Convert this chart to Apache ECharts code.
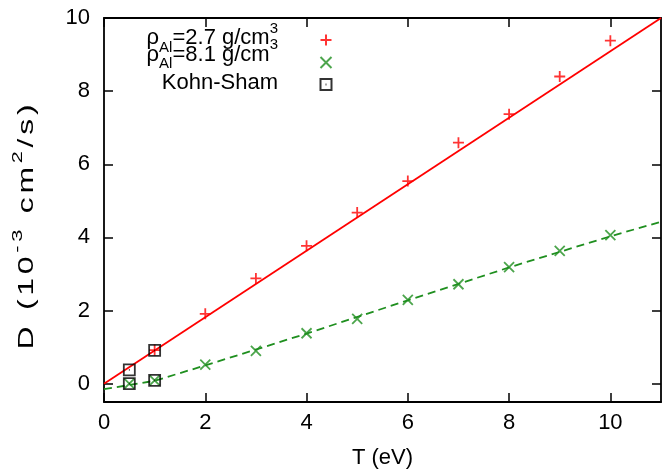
<!DOCTYPE html>
<html>
<head>
<meta charset="utf-8">
<script src="https://cdn.jsdelivr.net/npm/echarts@6/dist/echarts.min.js"></script>
<style>
html,body{margin:0;padding:0;background:#fff;}
#c{width:670px;height:474px;}
</style>
</head>
<body>
<div id="c"></div>
<script>
// ---- data ----
const redT = [1, 2, 3, 4, 5, 6, 7, 8, 9, 10];
const redD = [0.92, 1.91, 2.88, 3.77, 4.68, 5.54, 6.59, 7.37, 8.40, 9.38];
const greenT = [0.5, 1, 2, 3, 4, 5, 6, 7, 8, 9, 10];
const greenD = [0.0, 0.09, 0.52, 0.90, 1.38, 1.77, 2.29, 2.72, 3.19, 3.63, 4.06];
const ksT = [0.5, 0.5, 1, 1];
const ksD = [0.38, 0.0, 0.91, 0.09];
const redFitT = [0, 11];
const redFitD = [0, 10];
const greenFitT = [0, 1, 2, 4, 6, 8, 10, 11];
const greenFitD = [-0.15, 0.08, 0.50, 1.37, 2.28, 3.18, 4.03, 4.43];
const xTicks = [0, 2, 4, 6, 8, 10];
const yTicks = [0, 2, 4, 6, 8, 10];

const zip = (a, b) => a.map((v, i) => [v, b[i]]);
const FONTNAME = '"Liberation Sans", Arial, sans-serif';
const FS = 22, FSS = 15;
const RED = '#ff0000';
const GREEN = '#1f8f1f';

const plusPath = 'path://M0,-1L0,1M-1,0L1,0';
const crossPath = 'path://M-1,-1L1,1M-1,1L1,-1';
const boxPath = 'path://M-5,-5L5,-5L5,5L-5,5Z M-0.4,0L0.4,0';

const richMain = {
  a: {fontSize: FS, lineHeight: 34, fontFamily: FONTNAME, color: '#000'},
  sub: {fontSize: FSS, lineHeight: 22, verticalAlign: 'bottom', fontFamily: FONTNAME, color: '#000'},
  sup: {fontSize: FSS, lineHeight: 16, verticalAlign: 'top', fontFamily: FONTNAME, color: '#000'}
};

// y-axis title: the reference draws it drawn out along its length
const cv = document.createElement('canvas').getContext('2d');
function tw(t, size) { cv.font = size + 'px ' + FONTNAME; return cv.measureText(t).width; }
const yParts = [['D (10', 'a'], ['-3', 's'], [' cm', 'a'], ['2', 's'], ['/s)', 'a']];
const yChars = [];
yParts.forEach(([t, k]) => t.split('').forEach(ch => yChars.push([ch, k])));
const yNatural = yChars.reduce((s, [ch, k]) => s + tw(ch, k === 'a' ? FS : FSS), 0);
const yTarget = 245, yScale = 1.45;
const yPad = Math.max(0, (yTarget / yScale - yNatural) / (yChars.length - 1));
const yRich = {
  a: {fontSize: FS, lineHeight: 34, fontFamily: FONTNAME, color: '#000', padding: [0, yPad, 0, 0]},
  s: {fontSize: FSS, lineHeight: 16, verticalAlign: 'top', fontFamily: FONTNAME, color: '#000', padding: [0, yPad, 0, 0]},
  al: {fontSize: FS, lineHeight: 34, fontFamily: FONTNAME, color: '#000'}
};
const yText = yChars.map(([ch, k], i) => '{' + (i === yChars.length - 1 ? 'al' : k) + '|' + ch + '}').join('');

const axisCommon = {
  type: 'value',
  axisLine: {show: true, onZero: false, lineStyle: {color: '#000', width: 1.8}},
  axisTick: {inside: true, length: 9, lineStyle: {color: '#000', width: 1.5}},
  splitLine: {show: false}
};
const labelStyle = {fontSize: FS, fontFamily: FONTNAME, color: '#000'};

const chart = echarts.init(document.getElementById('c'), null, {renderer: 'canvas'});
chart.setOption({
  backgroundColor: '#fff',
  animation: false,
  grid: {left: 104, right: 9, top: 18, bottom: 70, containLabel: false},
  xAxis: [
    Object.assign({}, axisCommon, {
      position: 'bottom', min: 0, max: 11,
      axisTick: Object.assign({}, axisCommon.axisTick, {customValues: xTicks}),
      axisLabel: Object.assign({customValues: xTicks, margin: 10}, labelStyle),
      name: 'T (eV)', nameLocation: 'middle', nameGap: 45,
      nameTextStyle: labelStyle
    }),
    Object.assign({}, axisCommon, {
      position: 'top', min: 0, max: 11,
      axisTick: Object.assign({}, axisCommon.axisTick, {customValues: xTicks}),
      axisLabel: {show: false}
    })
  ],
  yAxis: [
    Object.assign({}, axisCommon, {
      position: 'left', min: -0.5, max: 10,
      axisTick: Object.assign({}, axisCommon.axisTick, {customValues: yTicks}),
      axisLabel: Object.assign({customValues: yTicks, margin: 14}, labelStyle)
    }),
    Object.assign({}, axisCommon, {
      position: 'right', min: -0.5, max: 10,
      axisTick: Object.assign({}, axisCommon.axisTick, {customValues: yTicks}),
      axisLabel: {show: false}
    })
  ],
  legend: [
    {data: ['rho27'], left: 319.5, top: 33.5, itemWidth: 11, itemHeight: 11, formatter: () => '', selectedMode: false, padding: 0},
    {data: ['rho81'], left: 319.5, top: 56, itemWidth: 11, itemHeight: 11, formatter: () => '', selectedMode: false, padding: 0},
    {data: ['ks'], left: 319.5, top: 78, itemWidth: 11, itemHeight: 11, formatter: () => '', selectedMode: false, padding: 0}
  ],
  graphic: [
    {type: 'text', x: 278, y: 38, style: {text: '{a|ρ}{sub|Al}{a|=2.7 g/cm}{sup|3}', rich: richMain, align: 'right', verticalAlign: 'middle'}},
    {type: 'text', x: 278, y: 54.5, style: {text: '{a|ρ}{sub|Al}{a|=8.1 g/cm}{sup|3}', rich: richMain, align: 'right', verticalAlign: 'middle'}},
    {type: 'text', x: 278, y: 83, style: {text: 'Kohn-Sham', fontSize: FS, fontFamily: FONTNAME, fill: '#000', align: 'right', verticalAlign: 'middle'}},
    {type: 'text', x: 27, y: 227, rotation: Math.PI / 2, scaleX: yScale,
     style: {text: yText, rich: yRich, align: 'center', verticalAlign: 'middle'}}
  ],
  series: [
    {
      name: 'redfit', type: 'line', data: zip(redFitT, redFitD), showSymbol: false, symbol: 'none',
      lineStyle: {color: RED, width: 1.8}, itemStyle: {color: RED}, silent: true, z: 2
    },
    {
      name: 'greenfit', type: 'line', data: zip(greenFitT, greenFitD), showSymbol: false, symbol: 'none',
      lineStyle: {color: GREEN, width: 1.8, type: [8, 5]}, itemStyle: {color: GREEN}, silent: true, z: 2
    },
    {
      name: 'rho27', type: 'scatter', data: zip(redT, redD), symbol: plusPath, symbolSize: 11,
      itemStyle: {color: 'rgba(0,0,0,0)', borderColor: RED, borderWidth: 1.8}, z: 3
    },
    {
      name: 'rho81', type: 'scatter', data: zip(greenT, greenD), symbol: crossPath, symbolSize: 10,
      itemStyle: {color: 'rgba(0,0,0,0)', borderColor: GREEN, borderWidth: 1.8}, z: 3
    },
    {
      name: 'ks', type: 'scatter', data: zip(ksT, ksD), symbol: boxPath, symbolSize: 11,
      itemStyle: {color: 'rgba(0,0,0,0)', borderColor: '#000', borderWidth: 1.8}, z: 4
    }
  ]
});
</script>
</body>
</html>
